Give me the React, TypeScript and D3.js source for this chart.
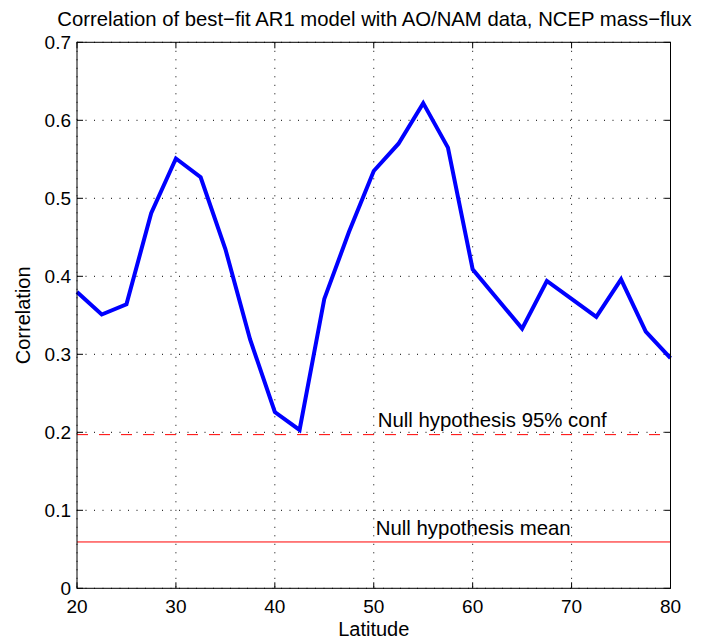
import React from "react";
import * as d3 from "d3";

const latitudes = [20, 22.5, 25, 27.5, 30, 32.5, 35, 37.5, 40, 42.5, 45, 47.5, 50, 52.5, 55, 57.5, 60, 62.5, 65, 67.5, 70, 72.5, 75, 77.5, 80];
const correlation = [0.380, 0.351, 0.364, 0.481, 0.551, 0.527, 0.435, 0.319, 0.226, 0.203, 0.371, 0.457, 0.535, 0.570, 0.622, 0.565, 0.409, 0.371, 0.333, 0.394, 0.371, 0.348, 0.396, 0.329, 0.295];
const xTicks = [20, 30, 40, 50, 60, 70, 80];
const yTicks = [0, 0.1, 0.2, 0.3, 0.4, 0.5, 0.6, 0.7];
const nullConf95 = 0.197;
const nullMean = 0.0594;
const annotations = [
  { text: "Null hypothesis 95% conf", x: 50.4, y: 0.207 },
  { text: "Null hypothesis mean", x: 50.2, y: 0.068 },
];
const title = "Correlation of best\u2212fit AR1 model with AO/NAM data, NCEP mass\u2212flux";
const xLabel = "Latitude";
const yLabel = "Correlation";

const W = 701;
const H = 643;
const left = 77;
const right = 670.5;
const top = 42.3;
const bottom = 588.3;
const FONT = "'Liberation Sans', Arial, Helvetica, sans-serif";

export default function App() {
  const x = d3.scaleLinear().domain([20, 80]).range([left, right]);
  const y = d3.scaleLinear().domain([0, 0.7]).range([bottom, top]);
  const line = d3
    .line<number>()
    .x((_, i) => x(latitudes[i]))
    .y((d) => y(d));
  const tickLen = 6;
  const gridDash = "1 7.5";

  return (
    <svg
      width={W}
      height={H}
      style={{ position: "absolute", left: 0, top: 0, background: "#fff" }}
      fontFamily={FONT}
    >
      <rect x={0} y={0} width={W} height={H} fill="#fff" />
      {/* grid */}
      {xTicks.map((t) => (
        <line key={"gx" + t} x1={x(t)} x2={x(t)} y1={top} y2={bottom} stroke="#000" strokeWidth={1} strokeDasharray={gridDash} />
      ))}
      {yTicks.map((t) => (
        <line key={"gy" + t} x1={left} x2={right} y1={y(t)} y2={y(t)} stroke="#000" strokeWidth={1} strokeDasharray={gridDash} />
      ))}
      {/* ticks */}
      {xTicks.map((t) => (
        <g key={"tx" + t}>
          <line x1={x(t)} x2={x(t)} y1={bottom} y2={bottom - tickLen} stroke="#000" />
          <line x1={x(t)} x2={x(t)} y1={top} y2={top + tickLen} stroke="#000" />
          <text x={x(t)} y={bottom + 25} textAnchor="middle" fontSize={19} fill="#000">
            {t}
          </text>
        </g>
      ))}
      {yTicks.map((t) => (
        <g key={"ty" + t}>
          <line x1={left} x2={left + tickLen} y1={y(t)} y2={y(t)} stroke="#000" />
          <line x1={right} x2={right - tickLen} y1={y(t)} y2={y(t)} stroke="#000" />
          <text x={left - 6} y={y(t)} dy="0.36em" textAnchor="end" fontSize={19} fill="#000">
            {d3.format("~g")(t)}
          </text>
        </g>
      ))}
      {/* null hypothesis lines */}
      <line x1={left} x2={right} y1={y(nullConf95)} y2={y(nullConf95)} stroke="#ff0000" strokeWidth={1} strokeDasharray="11 11" />
      <line x1={left} x2={right} y1={y(nullMean)} y2={y(nullMean)} stroke="#ff0000" strokeWidth={1} />
      {/* data line */}
      <path d={line(correlation) || ""} fill="none" stroke="#0000ff" strokeWidth={4} strokeLinejoin="miter" />
      {/* annotations */}
      {annotations.map((a) => (
        <text key={a.text} x={x(a.x)} y={y(a.y)} fontSize={20.4} fill="#000">
          {a.text}
        </text>
      ))}
      {/* axes box */}
      <rect x={left} y={top} width={right - left} height={bottom - top} fill="none" stroke="#000" strokeWidth={1} />
      {/* labels */}
      <text x={374.5} y={26} textAnchor="middle" fontSize={20.3} fill="#000">
        {title}
      </text>
      <text x={(left + right) / 2} y={636} textAnchor="middle" fontSize={20} fill="#000">
        {xLabel}
      </text>
      <text transform={`translate(30, ${(top + bottom) / 2}) rotate(-90)`} textAnchor="middle" fontSize={20} fill="#000">
        {yLabel}
      </text>
    </svg>
  );
}
